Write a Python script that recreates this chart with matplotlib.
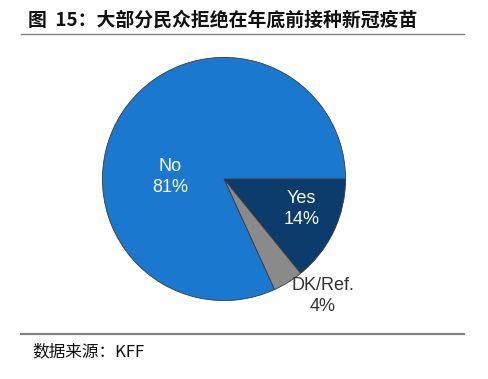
import matplotlib
matplotlib.use("Agg")
import matplotlib.pyplot as plt
from matplotlib.lines import Line2D

title = "图  15：大部分民众拒绝在年底前接种新冠疫苗"
source = "数据来源：KFF"
categories = ["Yes", "DK/Ref.", "No"]
values = [14, 4, 81]
colors = ["#0b3c6b", "#8a8a8a", "#1a78cf"]

W, H = 489, 379
fig = plt.figure(figsize=(W / 100, H / 100), dpi=100)
fig.patch.set_facecolor("white")

cx, cy, r = 224, 179, 124
ax = fig.add_axes([(cx - r) / W, (H - cy - r) / H, 2 * r / W, 2 * r / H])
ax.pie(values, colors=colors, startangle=0, counterclock=False, radius=1,
       wedgeprops=dict(edgecolor="#3a3a3a", linewidth=0.6))
ax.set_xlim(-1.02, 1.02)
ax.set_ylim(-1.02, 1.02)
ax.set_aspect("equal")
ax.axis("off")

lab_font = dict(family=["Liberation Sans", "DejaVu Sans"], fontsize=13, ha="center", va="center", linespacing=1.3)
ax.text(-0.44, 0.02, f"No\n{values[2]}%", color="white", **lab_font)
ax.text(0.64, -0.25, f"Yes\n{values[0]}%", color="white", **lab_font)
ax.text(0.81, -0.96, f"DK/Ref.\n{values[1]}%", color="#333333", **lab_font)

cjk = ["Noto Sans CJK SC", "DejaVu Sans"]
fig.text(28 / W, 1 - 20 / H, title, family=cjk, fontsize=13.6, fontweight="bold",
         ha="left", va="center", color="#111111")
fig.add_artist(Line2D([21 / W, 464 / W], [1 - 34 / H, 1 - 34 / H], color="#808080", lw=1.0))
fig.add_artist(Line2D([21 / W, 464 / W], [1 - 334 / H, 1 - 334 / H], color="#808080", lw=1.6))
fig.text(32 / W, 1 - 352 / H, source, family=cjk, fontsize=12,
         ha="left", va="center", color="#111111")

fig.savefig("out.png", dpi=100)
